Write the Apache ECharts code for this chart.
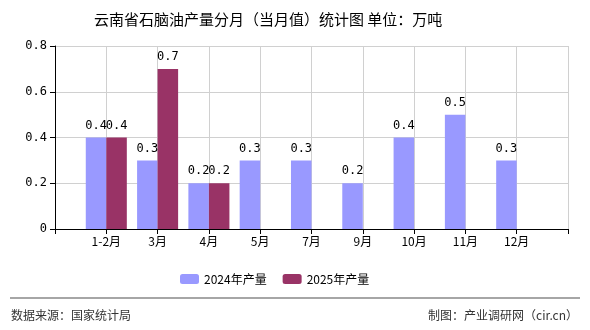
<!DOCTYPE html>
<html><head><meta charset="utf-8">
<script src="https://cdn.jsdelivr.net/npm/echarts@6/dist/echarts.min.js"></script>
<style>html,body{margin:0;padding:0;background:#fff}#c{width:590px;height:330px}</style>
</head><body><div id="c"></div>
<script>
const categories = ['', '1-2月', '3月', '4月', '5月', '7月', '9月', '10月', '11月', '12月', ''];
const values2024 = ['-', 0.4, 0.3, 0.2, 0.3, 0.3, 0.2, 0.4, 0.5, 0.3, '-'];
const values2025 = ['-', 0.4, 0.7, 0.2, '-', '-', '-', '-', '-', '-', '-'];
const yTicks = [0, 0.2, 0.4, 0.6, 0.8];
const seriesNames = ['2024年产量', '2025年产量'];
const titleText = '云南省石脑油产量分月（当月值）统计图 单位：万吨';

const cjk = '"Noto Sans CJK SC", sans-serif';
const mono = '"DejaVu Sans Mono", "Liberation Mono", monospace';
const chart = echarts.init(document.getElementById('c'), null, {renderer: 'canvas'});
const lbl = {show: true, position: 'top', color: '#000', fontSize: 12, fontFamily: mono, distance: 6,
  formatter: p => String(p.value)};
chart.setOption({
  animation: false,
  title: {text: titleText, left: 89, top: 7, textStyle: {fontSize: 15, fontWeight: 'normal', color: '#000', fontFamily: cjk}},
  grid: {left: 55, right: 22, top: 46, bottom: 101},
  legend: {top: 268, left: 175, itemWidth: 19, itemHeight: 10, itemGap: 16,
    textStyle: {fontSize: 12, color: '#000', fontFamily: cjk}, data: seriesNames},
  xAxis: {type: 'category', data: categories, boundaryGap: false,
    axisLine: {lineStyle: {color: '#000'}}, axisTick: {show: true, lineStyle: {color: '#000'}},
    axisLabel: {color: '#000', fontSize: 12, fontFamily: cjk, interval: 0, margin: 6},
    splitLine: {show: true, lineStyle: {color: '#d0d0d0'}}},
  yAxis: {type: 'value', min: 0, max: 0.8, interval: 0.2,
    axisLine: {show: true, lineStyle: {color: '#000'}}, axisTick: {show: true, lineStyle: {color: '#000'}},
    axisLabel: {color: '#000', fontSize: 12, fontFamily: mono, formatter: v => yTicks.includes(+v.toFixed(1)) ? String(+v.toFixed(1)) : ''},
    splitLine: {show: true, lineStyle: {color: '#d0d0d0'}}},
  series: [
    {name: seriesNames[0], type: 'bar', data: values2024, itemStyle: {color: '#9999FF'}, barGap: '0%', barCategoryGap: '20%', label: lbl},
    {name: seriesNames[1], type: 'bar', data: values2025, itemStyle: {color: '#993366'}, barGap: '0%', barCategoryGap: '20%', label: lbl}
  ],
  graphic: [
    {type: 'line', shape: {x1: 10, y1: 298, x2: 580, y2: 298}, style: {stroke: '#888', lineWidth: 1.5}},
    {type: 'text', left: 11, top: 309, style: {text: '数据来源：国家统计局', fontSize: 12, fill: '#333', fontFamily: cjk}},
    {type: 'text', right: 12, top: 309, style: {text: '制图：产业调研网（cir.cn）', fontSize: 12, fill: '#333', fontFamily: cjk}}
  ]
});
</script></body></html>
